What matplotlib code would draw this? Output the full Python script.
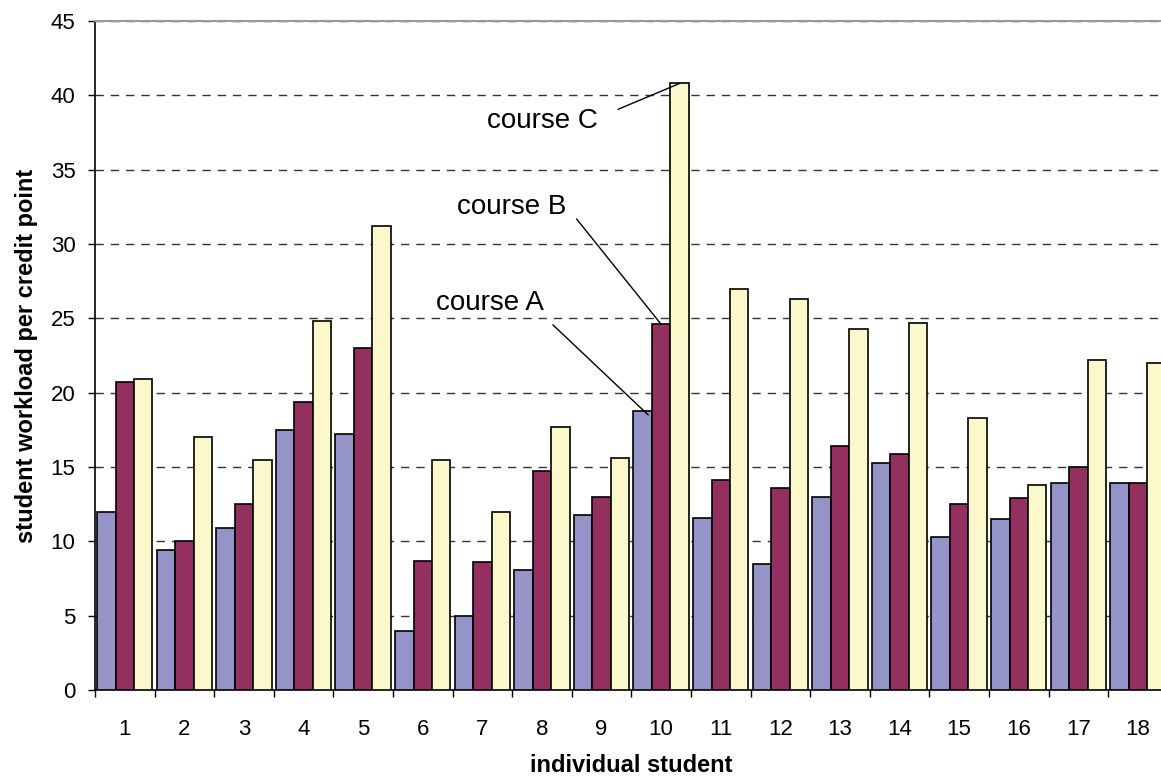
import numpy as np
import matplotlib
matplotlib.use("Agg")
import matplotlib.pyplot as plt

# workload per credit point
students = list(range(1, 19))
course_a = [12.0, 9.4, 10.9, 17.5, 17.2, 4.0, 5.0, 8.1, 11.8, 18.8, 11.6, 8.5, 13.0, 15.3, 10.3, 11.5, 13.9, 13.9]
course_b = [20.7, 10.0, 12.5, 19.4, 23.0, 8.7, 8.6, 14.7, 13.0, 24.6, 14.1, 13.6, 16.4, 15.9, 12.5, 12.9, 15.0, 13.9]
course_c = [20.9, 17.0, 15.5, 24.8, 31.2, 15.5, 12.0, 17.7, 15.6, 40.8, 27.0, 26.3, 24.3, 24.7, 18.3, 13.8, 22.2, 22.0]

plt.rcParams['font.family'] = ['Liberation Sans', 'DejaVu Sans']

fig = plt.figure(figsize=(11.61, 7.78), dpi=100)
ax = fig.add_axes([0.0818, 0.1131, 0.924, 0.8599])

x = np.array(students)
w = 0.31
ax.bar(x - w, course_a, w, color="#9494c8", edgecolor="black", linewidth=1.2, zorder=3)
ax.bar(x, course_b, w, color="#94305f", edgecolor="black", linewidth=1.2, zorder=3)
ax.bar(x + w, course_c, w, color="#fbf8cc", edgecolor="black", linewidth=1.2, zorder=3)

ax.set_xlim(0.5, 18.5)
ax.set_ylim(0, 45)
ax.set_yticks(range(0, 46, 5))
ax.yaxis.grid(True, linestyle=(0, (6, 5)), color="#333333", linewidth=1, zorder=0)

ax.set_xticks(x)
ax.set_xticks(np.arange(0.5, 19, 1), minor=True)
ax.tick_params(axis="x", which="major", length=0, pad=21, labelsize=16)
ax.tick_params(axis="x", which="minor", length=5, width=1, direction="out")
ax.tick_params(axis="y", length=5, width=1, direction="out", labelsize=16, pad=9)

ax.spines["right"].set_visible(False)
ax.spines["top"].set_color("#999999")
ax.spines["top"].set_linewidth(1.5)
ax.spines["left"].set_linewidth(1.2)
ax.spines["bottom"].set_linewidth(1.2)

ax.set_xlabel("individual student", fontsize=17, fontweight="bold", labelpad=10)
ax.set_ylabel("student workload per credit point", fontsize=17, fontweight="bold", labelpad=9)

# labels pointing at student 10
i = students.index(10)
ax.annotate("course C", xy=(x[i] + w, course_c[i]), xytext=(8.0, 38.3),
            fontsize=20, ha="center", va="center",
            arrowprops=dict(arrowstyle="-", color="black", linewidth=1, shrinkA=14, shrinkB=0, relpos=(1, 0.6)))
ax.annotate("course B", xy=(x[i], course_b[i]), xytext=(7.5, 32.5),
            fontsize=20, ha="center", va="center",
            arrowprops=dict(arrowstyle="-", color="black", linewidth=1, shrinkA=8, shrinkB=0, relpos=(1, 0.5)))
ax.annotate("course A", xy=(x[i] - w * 0.7, course_a[i] - 0.3), xytext=(7.13, 26.0),
            fontsize=20, ha="center", va="center",
            arrowprops=dict(arrowstyle="-", color="black", linewidth=1, shrinkA=6, shrinkB=0, relpos=(1, 0.0)))

fig.savefig("out.png", dpi=100)
